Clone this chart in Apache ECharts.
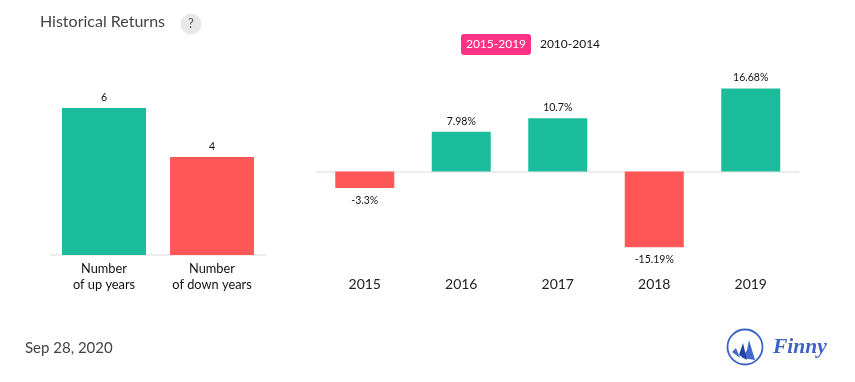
<!DOCTYPE html>
<html><head><meta charset="utf-8">
<script src="https://cdn.jsdelivr.net/npm/echarts@6/dist/echarts.min.js"></script>
<style>html,body{margin:0;padding:0;background:#fff}#c{width:855px;height:382px}</style>
</head><body><div id="c"></div>
<script>
const countCategories = ['Number\nof up years', 'Number\nof down years'];
const countValues = [6, 4];
const years = ['2015', '2016', '2017', '2018', '2019'];
const returns = [-3.3, 7.98, 10.7, -15.19, 16.68];
const titleText = 'Historical Returns';
const dateText = 'Sep 28, 2020';
const rangeLabels = ['2015-2019', '2010-2014'];

const GREEN = '#1abc9c', RED = '#ff5757', FONT = 'Lato';
const chart = echarts.init(document.getElementById('c'), null, {renderer: 'canvas'});
const txt = (x, y, text, size, fill, extra) => ({type: 'text', x, y, style: Object.assign({text, font: size + 'px ' + FONT, fill, textVerticalAlign: 'middle'}, extra || {})});
chart.setOption({
  animation: false,
  backgroundColor: '#fff',
  grid: [
    {left: 50, top: 10, width: 216, height: 245},
    {left: 316.5, top: 71.9, width: 482.5, height: 199.2}
  ],
  xAxis: [
    {gridIndex: 0, type: 'category', data: countCategories,
      axisLine: {lineStyle: {color: '#e8e8e8', width: 1.5}}, axisTick: {show: false},
      axisLabel: {fontFamily: FONT, fontSize: 12.8, color: '#111', lineHeight: 16, margin: 6, interval: 0}},
    {gridIndex: 1, type: 'category', data: years, position: 'bottom',
      axisLine: {show: false, onZero: false}, axisTick: {show: false},
      axisLabel: {fontFamily: FONT, fontSize: 14, color: '#222', margin: 6, interval: 0}},
    {gridIndex: 1, type: 'category', data: years,
      axisLine: {show: true, onZero: true, lineStyle: {color: '#e8e8e8', width: 1.5}}, axisTick: {show: false}, axisLabel: {show: false}}
  ],
  yAxis: [
    {gridIndex: 0, type: 'value', min: 0, max: 10, show: false, splitLine: {show: false}},
    {gridIndex: 1, type: 'value', min: -20, max: 20, show: false, splitLine: {show: false}}
  ],
  series: [
    {type: 'bar', xAxisIndex: 0, yAxisIndex: 0, barWidth: 84,
      data: countValues.map((v, i) => ({value: v, itemStyle: {color: i === 0 ? GREEN : RED}})),
      label: {show: true, position: 'top', fontFamily: FONT, fontSize: 10.5, color: '#111', distance: 5}},
    {type: 'bar', xAxisIndex: 1, yAxisIndex: 1, barWidth: 59,
      data: returns.map(v => ({value: v, itemStyle: {color: v >= 0 ? GREEN : RED},
        label: {show: true, position: v >= 0 ? 'top' : 'bottom', distance: v >= 0 ? 5 : 7, formatter: v + '%', fontFamily: FONT, fontSize: 10.5, color: '#111'}}))}
  ],
  graphic: [
    txt(40, 22, titleText, 16, '#444'),
    {type: 'circle', shape: {cx: 191, cy: 24, r: 10.5}, style: {fill: '#e8e8e8'}},
    txt(191, 23.5, '?', 13, '#555', {textAlign: 'center'}),
    {type: 'rect', shape: {x: 461, y: 34, width: 70, height: 21, r: 3}, style: {fill: '#ff3385'}},
    txt(496, 44.5, rangeLabels[0], 12, '#fff', {textAlign: 'center'}),
    txt(570, 44.5, rangeLabels[1], 12, '#111', {textAlign: 'center'}),
    txt(25, 348, dateText, 15, '#444'),
    {type: 'circle', shape: {cx: 745, cy: 347, r: 17.5}, style: {fill: 'none', stroke: '#3f63c5', lineWidth: 1.8}},
    {type: 'polygon', shape: {points: [[749,340],[755,360],[742,358],[747,350]]}, style: {fill: '#4468cc'}},
    {type: 'polygon', shape: {points: [[743,343],[747,360],[739,355]]}, style: {fill: '#1e44a8'}},
    {type: 'polygon', shape: {points: [[736,348],[740,358],[732,352]]}, style: {fill: '#4468cc'}},
    txt(773, 347, 'Finny', 21, '#3f63c5', {font: 'italic bold 21.5px "Liberation Serif"'})
  ]
});
</script></body></html>
